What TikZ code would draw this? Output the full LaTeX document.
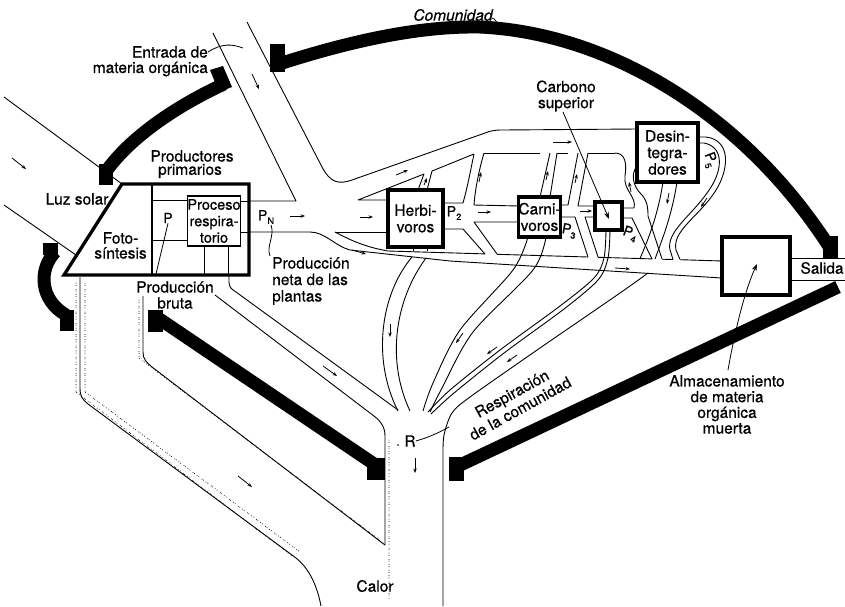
\documentclass[tikz,border=0pt]{standalone}
\usepackage{fontspec}
\setmainfont{TeX Gyre Heros}[FakeBold=0.6]
\usetikzlibrary{arrows.meta}
\newcommand{\Pidx}[1]{P\kern0.2pt\raisebox{-0.5ex}{\fontsize{9}{9}\selectfont #1}}
\begin{document}
\begin{tikzpicture}[x=1pt,y=-1pt,
  wall/.style={line width=13pt},
  pipe/.style={line width=0.9pt, line join=round},
  heavy/.style={line width=3.3pt, line join=miter},
  flow/.style={-{Stealth[length=4.5pt,width=3.4pt]}, line width=0.8pt},
  lead/.style={line width=0.8pt},
  stip/.style={line width=1pt, line cap=round,
    dash pattern=on 0pt off 2.3pt on 0pt off 4.1pt on 0pt off 1.7pt on 0pt off 3.2pt},
  lbl/.style={font=\fontsize{15.5}{16.5}\selectfont, inner sep=0pt},
  sublbl/.style={font=\fontsize{14}{14}\selectfont, inner sep=0pt},
  boxn/.style={heavy, draw, align=center, inner sep=0pt, font=\fontsize{15.5}{16.5}\selectfont}
]
\useasboundingbox (0,0) rectangle (845,606);

% ---------- sunlight input ----------
\draw[pipe] (4,97) -- (122,184);
\draw[pipe] (4,205) -- (76,255);

% ---------- primary producers ----------
\draw[heavy] (122,184) -- (249,184) -- (249,275) -- (64,275) -- cycle;
\draw[line width=2.6pt] (152,184) -- (152,275);
\node[boxn, line width=1.6pt, minimum width=52pt, minimum height=50pt,
      font=\fontsize{14.5}{16.5}\selectfont] (resp) at (214,221) {Proceso\\respira-\\torio};
\draw[pipe] (152,200) -- (188,200) (152,240) -- (188,240);
\draw[pipe] (240,201) -- (249,201) (240,232) -- (249,232);
\draw[pipe] (204,246) -- (204,275) (228,246) -- (228,275);

% ---------- organic matter inflow and net production ----------
\draw[pipe] (249,201) -- (296,201) -- (213,33);
\draw[pipe] (247,22) -- (322,167) .. controls (330,182) and (338,185) .. (352,180)
  -- (485,133) .. controls (490,131) and (494,130) .. (502,130) -- (637,129);

% upper band, lower edge (broken where branches join)
\draw[pipe] (388,200) -- (358,200) -- (424,174);
\draw[pipe] (432,171) -- (474,154);
\draw[pipe] (484,153) -- (540,153);
\draw[pipe] (557,153) -- (568,153);
\draw[pipe] (588,153) -- (615,153);

% ---------- trophic boxes ----------
\node[boxn, minimum width=55pt, minimum height=57pt] (herb) at (415.5,218.5) {Herbi-\\voros};
\node[boxn, minimum width=41pt, minimum height=40pt] (carn) at (539.5,217) {Carni-\\voros};
\node[boxn, minimum width=27pt, minimum height=28pt] (top) at (608.5,216) {};
\node[boxn, minimum width=61pt, minimum height=59pt] (dec) at (667.5,152.5) {Desin-\\tegra-\\dores};
\node[boxn, minimum width=68pt, minimum height=58pt] (store) at (756,266) {};

% herbivore branches
\draw[pipe] (418,190) -- (424,174) (427,190) -- (432,171);
\draw[pipe] (443,203) -- (463,203) .. controls (468,185) and (471,168) .. (474,154);
\draw[pipe] (484,153) .. controls (479,170) and (475,190) .. (474,205) -- (519,206);
\draw[pipe] (443,229) -- (463,229) -- (485,254);
\draw[pipe] (497,254) -- (474,222) -- (519,222);
% carnivore branches
\draw[pipe] (540,197) -- (550,153) (550,197) -- (557,153);
\draw[pipe] (560,205) -- (568,205) -- (578,153);
\draw[pipe] (588,153) -- (578,206) -- (595,206);
\draw[pipe] (560,217) -- (575,217) -- (588,257);
\draw[pipe] (598,257) -- (585,217) -- (595,217);
% top carnivore to decomposers
\draw[pipe] (615,153) .. controls (625,153) and (627,163) .. (625,176)
  .. controls (623,190) and (637,197) .. (634,208) -- (622,208);
\draw[pipe] (637,166) .. controls (631,173) and (632,186) .. (642,195)
  .. controls (648,202) and (648,210) .. (648,216) -- (662,259);
\draw[pipe] (622,218) -- (632,218) -- (652,259);
% decomposer loop P5
\draw[pipe] (698,137) -- (706,137) .. controls (732,140) and (730,172) .. (712,196)
  .. controls (696,218) and (672,232) .. (676,250) -- (680,259.5);
\draw[pipe] (698,143) -- (704,143) .. controls (725,147) and (723,172) .. (707,193)
  .. controls (691,216) and (666,232) .. (670,250) -- (673,259.3);

% lower band (dead organic matter to storage)
\draw[pipe] (335,232) -- (388,232);
\draw[pipe] (335,232) .. controls (350,240) and (365,247) .. (388,251) -- (485,253.9);
\draw[pipe] (497,254.3) -- (588,257);
\draw[pipe] (598,257.3) -- (652,258.9);
\draw[pipe] (662,259.2) -- (673,259.5);
\draw[pipe] (680,259.7) -- (722,261);
\draw[pipe] (249,232) -- (310,232) .. controls (325,232) and (335,246) .. (350,250)
  -- (450,261) -- (722,278);
% exit
\draw[pipe] (790,258) -- (845,258);
\draw[pipe] (790,280) -- (845,280);

% ---------- respiration conduits towards R ----------
\draw[pipe] (229,275) -- (229,282) .. controls (229,287) and (231,289) .. (236,292) -- (398,410);
\draw[pipe] (215,295) -- (370,413) .. controls (380,420) and (385,426) .. (385,436) -- (385,545);
\draw[pipe] (413,247) -- (413,251) (427,247) -- (427,251);
\draw[pipe] (412,257) .. controls (380,295) and (372,360) .. (398,411);
\draw[pipe] (426,258) .. controls (395,300) and (386,360) .. (410,411);
\draw[pipe] plot[smooth] coordinates {(528,237) (513,270) (460,330) (433,383) (423,411)};
\draw[pipe] plot[smooth] coordinates {(546,237) (533,270) (473,332) (442,388) (430,412)};
\draw[pipe] plot[smooth] coordinates {(606,230) (604,258) (594,278) (560,306) (500,350) (450,390) (428,412)};
\draw[pipe] plot[smooth] coordinates {(610,230) (608,258) (598,280) (564,309) (504,353) (454,393) (431,414)};
\draw[pipe] (663,182) .. controls (658,215) and (648,240) .. (640,258.5);
\draw[pipe] (677,182) .. controls (672,215) and (662,240) .. (655,259);
\draw[pipe] plot[smooth] coordinates {(648,273) (620,293) (540,348) (470,397) (452,413) (444,435) (443,455)} -- (443,606);

% ---------- heat conduit ----------
\draw[pipe] (80,277) -- (80,388) .. controls (80,396) and (82,399) .. (88,404) -- (296,558)
  .. controls (306,566) and (316,580) .. (321,606);
\draw[pipe] (143,296) -- (143,352) .. controls (143,359) and (146,362) .. (152,367) -- (385,545);
\draw[stip] (85,283) -- (85,392) -- (300,552);
\draw[stip] (76,283) -- (76,392) -- (292,556);
\draw[stip] (139,300) -- (139,358) -- (381,541);
\draw[stip] (389,440) -- (389,600);

% ---------- flow arrows ----------
\draw[flow] (12,158) -- (26,169);
\draw[flow] (252,74) -- (259,89);
\draw[flow] (290,216) -- (305,216);
\draw[flow] (360,217) -- (373,217);
\draw[flow] (478,212) -- (491,212);
\draw[flow] (396,175) -- (408,170);
\draw[flow] (553,142) -- (572,142);
\draw[flow] (424,185) -- (427,178);
\draw[flow] (479,182) -- (481,172);
\draw[flow] (546,180) -- (548,171);
\draw[flow] (575,183) -- (577,174);
\draw[flow] (580,211) -- (592,211);
\draw[flow] (631,192) -- (629,182);
\draw[flow] (669,193) -- (667,204);
\draw[flow] (707,198) -- (701,207);
\draw[flow] (352,250) -- (366,254);
\draw[flow] (615,268) -- (630,269);
\draw[flow] (390,324) -- (390,337);
\draw[flow] (323,366) -- (337,376);
\draw[flow] (463,333) -- (456,343);
\draw[flow] (497,347) -- (487,354);
\draw[flow] (517,355) -- (507,362);
\draw[flow] (415,458) -- (415,473);
\draw[flow] (238,476) -- (252,487);

% ---------- community boundary ----------
\fill (270,44) rectangle (285,72);
\draw[wall] (279,64) .. controls (360,38) and (425,26) .. (480,27)
  .. controls (610,33) and (745,115) .. (830,248);
\fill (823,236) rectangle (838,258);
\fill (210,70) -- (223,66) -- (232,87) -- (219,92) -- cycle;
\draw[wall] (224,84) .. controls (185,102) and (135,132) .. (107,170);
\fill (99,164) rectangle (113,185);
\fill (43,243) rectangle (58,255);
\draw[wall] (55,252) .. controls (38,270) and (40,300) .. (66,315);
\fill (60,310) rectangle (74,331);
\fill (148,310) rectangle (163,332);
\draw[wall] (158,318) -- (377,466);
\fill (367,458) rectangle (385,480);
\fill (449,457) rectangle (464,481);
\draw[wall] (456,467) -- (838,287);

% ---------- labels ----------
\node[lbl, font=\fontsize{15.5}{16.5}\itshape] (com) at (453,15) {Comunidad};
\draw[lead] (492,18) .. controls (496,19) and (497,23) .. (498,27);
\node[lbl, anchor=east] (ent1) at (208,52) {Entrada de};
\node[lbl, anchor=east] (ent2) at (208,69) {materia orgánica};
\draw[lead] (ent1.east) .. controls (222,43) and (232,44) .. (243,48);
\node[lbl] (prod1) at (192,156) {Productores};
\node[lbl] (prod2) at (190,171) {primarios};
\node[lbl] (sun) at (77,199) {Luz solar};
\node[lbl, align=center, font=\fontsize{15.5}{15}\selectfont] (foto) at (120.5,245.5) {Foto-\\síntesis};
\node[sublbl] (pg) at (168,218) {P};
\draw[lead] (pg.south) -- (156,274);
\node[sublbl] (pn) at (266,217) {\Pidx{N}};
\draw[lead] (271,225) .. controls (275,236) and (266,246) .. (270,256);
\node[lbl, anchor=north west, align=left, font=\fontsize{15.5}{16.5}\selectfont] (pnet) at (272,257)
  {Producción\\neta de las\\plantas};
\node[lbl, align=center, font=\fontsize{15.5}{16}\selectfont] (pbru) at (175,295) {Producción\\bruta};
\node[sublbl] (p2) at (454,213) {\Pidx{2}};
\node[sublbl, rotate=-10] (p3) at (569,231) {\Pidx{3}};
\node[sublbl, rotate=-20] (p4) at (630,234) {\Pidx{4}};
\node[sublbl, rotate=-70] (p5) at (710,160) {\Pidx{5}};
\node[lbl, align=center, font=\fontsize{15.5}{16}\selectfont] (cs) at (566,96) {Carbono\\superior};
\coordinate (cstip) at (609,219);
\draw[lead, -{Stealth[length=7pt,width=5pt]}] (563,112) -- (cstip);
\node[lbl] (sal) at (822,268) {Salida};
\node[lbl, align=center, font=\fontsize{15.5}{15.7}\selectfont] (alm) at (727,404.5)
  {Almacenamiento\\de materia\\orgánica\\muerta};
\coordinate (sttip) at (757,264);
\draw[lead, -{Stealth[length=7pt,width=5pt]}] (728,370) .. controls (735,330) and (745,290) .. (sttip);
\node[lbl, rotate=29, align=center, font=\fontsize{15.5}{17}\selectfont] (resc) at (516,401)
  {Respiración\\de la comunidad};
\node[lbl] (rr) at (410,441) {R};
\fill (398,445) circle (0.9);
\draw[lead] (rr.east) .. controls (430,437) and (440,432) .. (449,427);
\node[lbl] (cal) at (375,586) {Calor};
\end{tikzpicture}
\end{document}
